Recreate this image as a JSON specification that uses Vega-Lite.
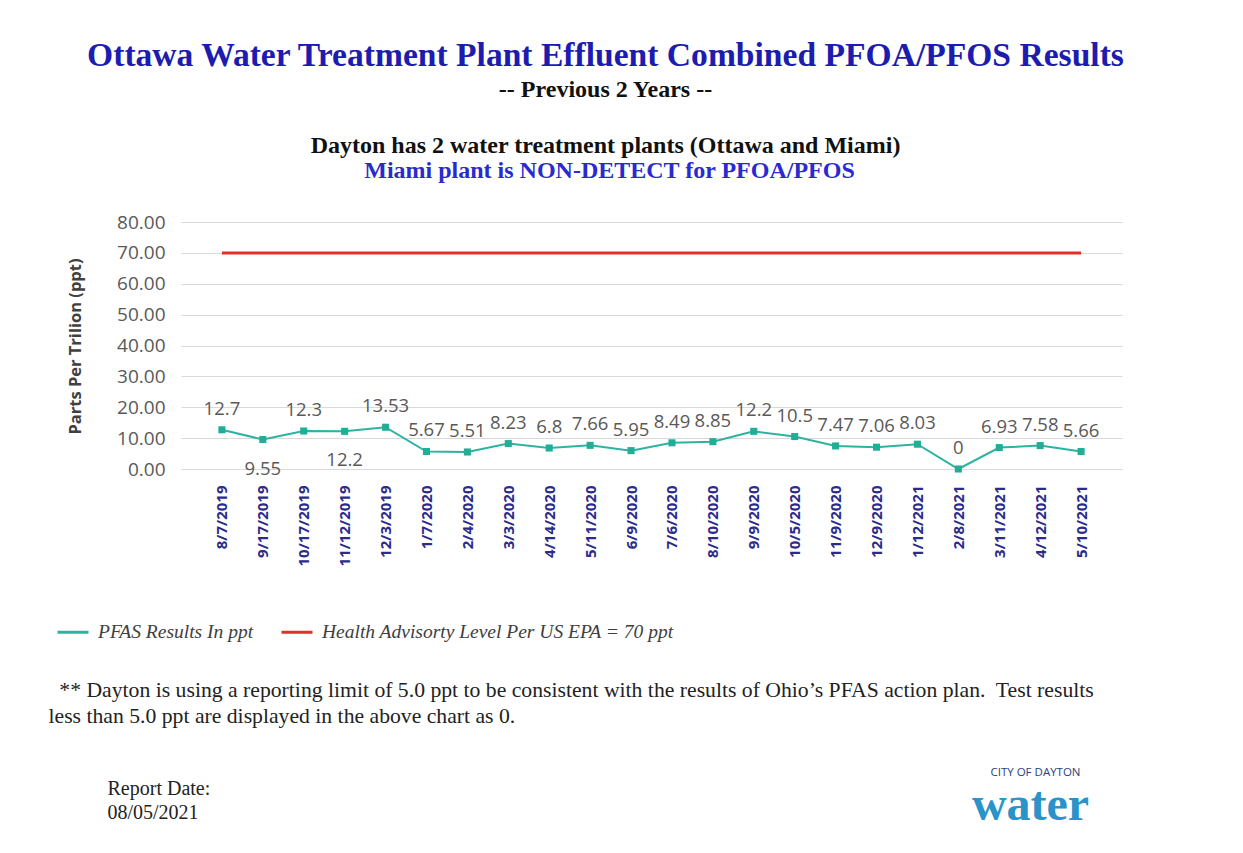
{
  "$schema": "https://vega.github.io/schema/vega-lite/v6.json",
  "width": 941,
  "height": 247,
  "autosize": {"type": "none"},
  "padding": {"left": 181, "top": 222, "right": 121, "bottom": 384},
  "background": "white",
  "title": {
    "text": "Ottawa Water Treatment Plant Effluent Combined PFOA/PFOS Results",
    "subtitle": ["-- Previous 2 Years --", "Dayton has 2 water treatment plants (Ottawa and Miami)"],
    "anchor": "middle",
    "frame": "group",
    "dx": -46,
    "offset": 0,
    "font": "Liberation Serif",
    "fontSize": 33.6,
    "fontWeight": "bold",
    "color": "#1c1cb0",
    "subtitleFont": "Liberation Serif",
    "subtitleFontSize": 24,
    "subtitleFontWeight": "bold",
    "subtitleColor": "#111111",
    "subtitleLineHeight": 56,
    "subtitlePadding": 5
  },
  "data": {
    "values": [
      {"Date": "8/7/2019", "Value": 12.7},
      {"Date": "9/17/2019", "Value": 9.55},
      {"Date": "10/17/2019", "Value": 12.3},
      {"Date": "11/12/2019", "Value": 12.2},
      {"Date": "12/3/2019", "Value": 13.53},
      {"Date": "1/7/2020", "Value": 5.67},
      {"Date": "2/4/2020", "Value": 5.51},
      {"Date": "3/3/2020", "Value": 8.23},
      {"Date": "4/14/2020", "Value": 6.8},
      {"Date": "5/11/2020", "Value": 7.66},
      {"Date": "6/9/2020", "Value": 5.95},
      {"Date": "7/6/2020", "Value": 8.49},
      {"Date": "8/10/2020", "Value": 8.85},
      {"Date": "9/9/2020", "Value": 12.2},
      {"Date": "10/5/2020", "Value": 10.5},
      {"Date": "11/9/2020", "Value": 7.47},
      {"Date": "12/9/2020", "Value": 7.06},
      {"Date": "1/12/2021", "Value": 8.03},
      {"Date": "2/8/2021", "Value": 0},
      {"Date": "3/11/2021", "Value": 6.93},
      {"Date": "4/12/2021", "Value": 7.58},
      {"Date": "5/10/2021", "Value": 5.66}
    ]
  },
  "layer": [
    {
      "mark": {"type": "line", "strokeWidth": 2},
      "encoding": {
        "x": {
          "field": "Date", "type": "ordinal", "sort": null,
          "scale": {"type": "point", "padding": 1},
          "axis": {
            "orient": "bottom",
            "labelAngle": 270,
            "labelFont": "Open Sans",
            "labelFontWeight": "bold",
            "labelFontSize": 15,
            "labelColor": "#2b2b8a",
            "labelPadding": 16,
            "ticks": false,
            "domain": false,
            "grid": false,
            "title": ["\u200b\u00a0\u00a0** Dayton is using a reporting limit of 5.0 ppt to be consistent with the results of Ohio\u2019s PFAS action plan.\u00a0 Test results", "less than 5.0 ppt are displayed in the above chart as 0."],
            "titleX": -133,
            "titleY": 210,
            "titleAlign": "left",
            "titleBaseline": "top",
            "titleFont": "Liberation Serif",
            "titleFontSize": 21.7,
            "titleFontWeight": "normal",
            "titleColor": "#222222",
            "titleLineHeight": 26,
            "titleLimit": 3000
          }
        },
        "y": {
          "field": "Value", "type": "quantitative",
          "scale": {"domain": [0, 80]},
          "axis": {
            "orient": "left",
            "values": [0, 10, 20, 30, 40, 50, 60, 70, 80],
            "format": ".2f",
            "labelFont": "Open Sans",
            "labelFontSize": 19,
            "labelColor": "#595959",
            "labelPadding": 16,
            "ticks": false,
            "domain": false,
            "grid": true,
            "gridColor": "#d9d9d9",
            "title": "Parts Per Trilion (ppt)",
            "titleX": -106,
            "titleY": 124,
            "titleAngle": 270,
            "titleAlign": "center",
            "titleBaseline": "middle",
            "titleFont": "Open Sans",
            "titleFontSize": 16.5,
            "titleFontWeight": "bold",
            "titleColor": "#404040"
          }
        },
        "color": {
          "datum": "PFAS Results In ppt",
          "scale": {
            "domain": ["PFAS Results In ppt", "Health Advisorty Level Per US EPA  = 70 ppt"],
            "range": ["#2db3a0", "#e0302a"]
          },
          "legend": {
            "orient": "none",
            "legendX": -125,
            "legendY": 393,
            "direction": "horizontal",
            "title": null,
            "symbolType": "stroke",
            "symbolSize": 961,
            "symbolStrokeWidth": 3,
            "labelFont": "Liberation Serif",
            "labelFontStyle": "italic",
            "labelFontSize": 19.5,
            "labelColor": "#404040",
            "labelOffset": 8,
            "labelLimit": 600,
            "columnPadding": 21
          }
        }
      }
    },
    {
      "mark": {"type": "line", "strokeWidth": 3},
      "encoding": {
        "x": {
          "field": "Date", "type": "ordinal", "sort": null,
          "axis": {
            "orient": "bottom",
            "labels": false, "ticks": false, "domain": false, "grid": false,
            "title": ["Report Date:", "08/05/2021"],
            "titleX": -74,
            "titleY": 309,
            "titleAlign": "left",
            "titleBaseline": "top",
            "titleFont": "Liberation Serif",
            "titleFontSize": 20,
            "titleFontWeight": "normal",
            "titleColor": "#222222",
            "titleLineHeight": 24
          }
        },
        "y": {
          "datum": 70, "type": "quantitative",
          "axis": {
            "orient": "right",
            "labels": false, "ticks": false, "domain": false, "grid": false,
            "title": "water",
            "titleX": -92,
            "titleY": 583,
            "titleAngle": 0,
            "titleAlign": "center",
            "titleBaseline": "middle",
            "titleFont": "Liberation Serif",
            "titleFontSize": 48,
            "titleFontWeight": "bold",
            "titleColor": "#2a93c9"
          }
        },
        "color": {"datum": "Health Advisorty Level Per US EPA  = 70 ppt"}
      }
    },
    {
      "mark": {"type": "point", "shape": "square", "filled": true, "size": 50, "opacity": 1, "color": "#22ad96"},
      "encoding": {
        "x": {
          "field": "Date", "type": "ordinal", "sort": null,
          "axis": {
            "orient": "top",
            "labels": false, "ticks": false, "domain": false, "grid": false,
            "title": "Miami plant is NON-DETECT for PFOA/PFOS",
            "titleX": 428,
            "titleY": -52,
            "titleAlign": "center",
            "titleBaseline": "middle",
            "titleFont": "Liberation Serif",
            "titleFontSize": 24,
            "titleFontWeight": "bold",
            "titleColor": "#2a2ad0"
          }
        },
        "y": {"field": "Value", "type": "quantitative", "axis": null}
      }
    },
    {
      "mark": {"type": "text", "dy": -21, "font": "Open Sans", "fontSize": 18.5, "color": "#595959", "align": "center", "baseline": "middle"},
      "encoding": {
        "x": {"field": "Date", "type": "ordinal", "sort": null, "axis": null},
        "y": {
          "field": "Value", "type": "quantitative",
          "axis": {
            "orient": "right",
            "labels": false, "ticks": false, "domain": false, "grid": false,
            "title": "CITY OF DAYTON",
            "titleX": -87,
            "titleY": 550,
            "titleAngle": 0,
            "titleAlign": "center",
            "titleBaseline": "middle",
            "titleFont": "Open Sans",
            "titleFontSize": 11.5,
            "titleFontWeight": "normal",
            "titleColor": "#2c3e7a"
          }
        },
        "text": {
          "condition": {"test": "datum.Date === '9/17/2019' || datum.Date === '11/12/2019'", "value": ""},
          "field": "Value", "type": "quantitative"
        }
      }
    },
    {
      "mark": {"type": "text", "dy": 29, "font": "Open Sans", "fontSize": 18.5, "color": "#595959", "align": "center", "baseline": "middle"},
      "encoding": {
        "x": {"field": "Date", "type": "ordinal", "sort": null, "axis": null},
        "y": {"field": "Value", "type": "quantitative", "axis": null},
        "text": {
          "condition": {"test": "datum.Date === '9/17/2019' || datum.Date === '11/12/2019'", "field": "Value", "type": "quantitative"},
          "value": ""
        }
      }
    }
  ],
  "resolve": {"axis": {"x": "independent", "y": "independent"}},
  "config": {"view": {"stroke": null}}
}
